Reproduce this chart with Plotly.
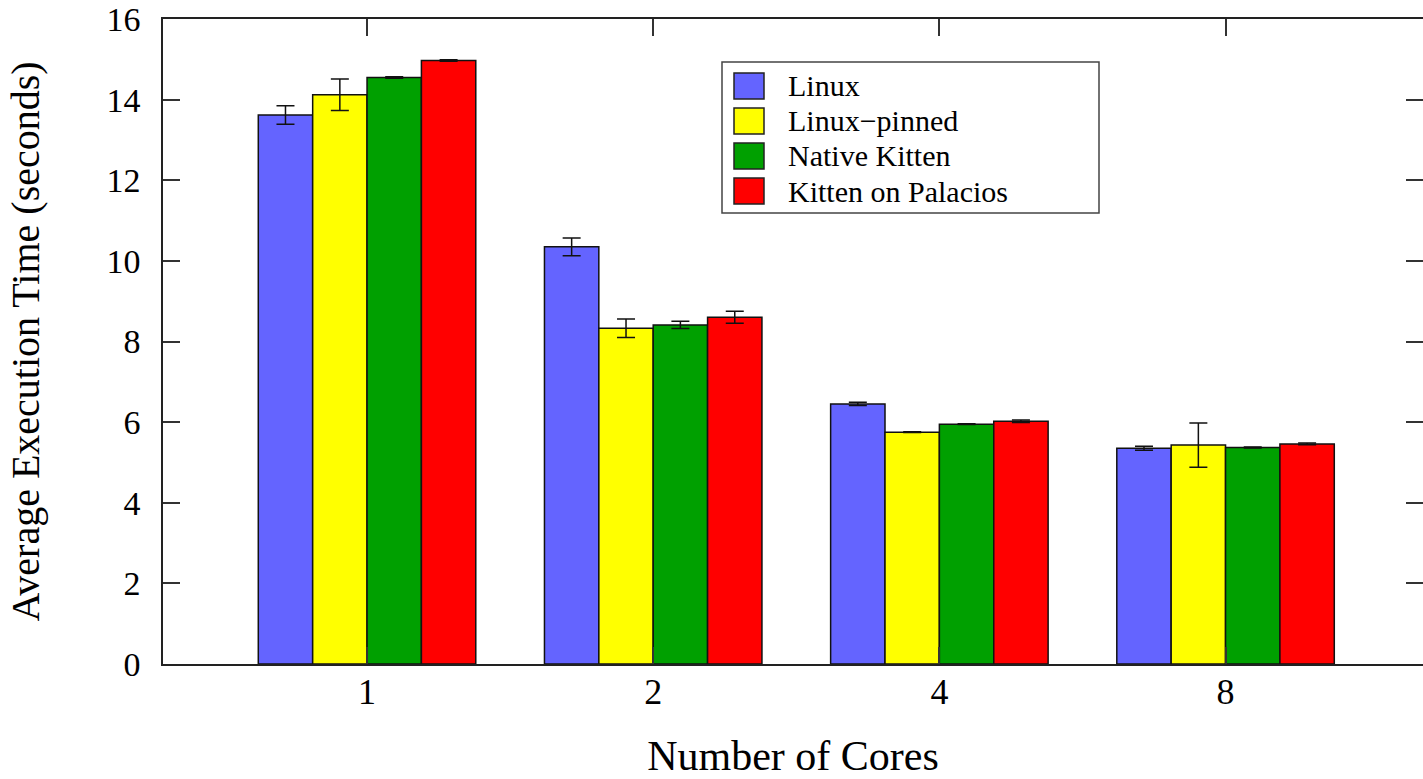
import plotly.graph_objects as go

# Benchmark results: mean execution time and spread per configuration
cores = ["1", "2", "4", "8"]
series_names = ["Linux", "Linux\u2212pinned", "Native Kitten", "Kitten on Palacios"]
series_colors = ["#6464FF", "#FFFF00", "#00A000", "#FF0000"]

linux_time = [13.62, 10.35, 6.45, 5.35]
linux_err = [0.23, 0.22, 0.04, 0.05]
pinned_time = [14.12, 8.33, 5.75, 5.43]
pinned_err = [0.39, 0.23, 0.01, 0.55]
native_time = [14.55, 8.41, 5.95, 5.37]
native_err = [0.02, 0.09, 0.01, 0.01]
palacios_time = [14.97, 8.60, 6.02, 5.46]
palacios_err = [0.02, 0.15, 0.03, 0.02]

y_ticks = [0, 2, 4, 6, 8, 10, 12, 14, 16]

W, H = 1423, 779
ML, MR, MT, MB = 163, 0, 19, 115
FONT = "Liberation Serif, Times New Roman, serif"

values = [linux_time, pinned_time, native_time, palacios_time]
errors = [linux_err, pinned_err, native_err, palacios_err]

fig = go.Figure()
for name, color, vals, errs in zip(series_names, series_colors, values, errors):
    fig.add_trace(go.Bar(
        x=cores, y=vals, name=name,
        marker=dict(color=color, line=dict(color="#111111", width=1.5)),
        error_y=dict(type="data", array=errs, visible=True,
                     color="#111111", thickness=1.5, width=9),
        showlegend=False,
    ))

# invisible trace so the right-hand tick axis is rendered
fig.add_trace(go.Scatter(x=[cores[0]], y=[0], yaxis="y2", mode="markers",
                         marker=dict(opacity=0), showlegend=False, hoverinfo="skip"))

pw = W - ML - MR
ph = H - MT - MB


def px_x(p):
    return (p - ML) / pw


def px_y(p):
    return (H - MB - p) / ph


# legend box with colour swatches
shapes = [dict(type="rect", xref="paper", yref="paper",
               x0=px_x(722), x1=px_x(1099), y0=px_y(213), y1=px_y(62),
               line=dict(color="#444444", width=1.5), fillcolor="white", layer="above")]
annotations = []
row_y = [86, 121, 156, 191]
for name, color, ry in zip(series_names, series_colors, row_y):
    shapes.append(dict(type="rect", xref="paper", yref="paper",
                       x0=px_x(734), x1=px_x(764), y0=px_y(ry + 13), y1=px_y(ry - 13),
                       line=dict(color="#222222", width=1.5), fillcolor=color, layer="above"))
    annotations.append(dict(text=name, xref="paper", yref="paper",
                            x=px_x(787), y=px_y(ry), xanchor="left", yanchor="middle",
                            borderpad=0, showarrow=False,
                            font=dict(family=FONT, size=30, color="black")))

axis_common = dict(ticks="inside", ticklen=17, tickwidth=1.5, tickcolor="#333333",
                   showgrid=False, zeroline=False)

fig.update_layout(
    width=W, height=H,
    margin=dict(l=ML, r=MR, t=MT, b=MB, pad=0, autoexpand=False),
    paper_bgcolor="white", plot_bgcolor="white",
    barmode="group", bargap=0.24, bargroupgap=0,
    showlegend=False,
    shapes=shapes, annotations=annotations,
    xaxis=dict(type="category", range=[-0.713, 3.69],
               showline=True, linecolor="#222222", linewidth=1.5, mirror="ticks",
               ticklabelstandoff=-5,
               tickfont=dict(family=FONT, size=36, color="black"),
               title=dict(text="Number of Cores", standoff=38,
                          font=dict(family=FONT, size=42, color="black")),
               **axis_common),
    yaxis=dict(range=[0, 16], tickvals=y_ticks,
               showline=True, linecolor="#222222", linewidth=1.5, mirror=False,
               ticklabelstandoff=14,
               tickfont=dict(family=FONT, size=34, color="black"),
               title=dict(text="Average Execution Time (seconds)", standoff=54,
                          font=dict(family=FONT, size=40, color="black")),
               **axis_common),
    yaxis2=dict(range=[0, 16], tickvals=y_ticks, overlaying="y", side="right",
                showline=False, showticklabels=False, **axis_common),
)

fig.write_html("out.html")
